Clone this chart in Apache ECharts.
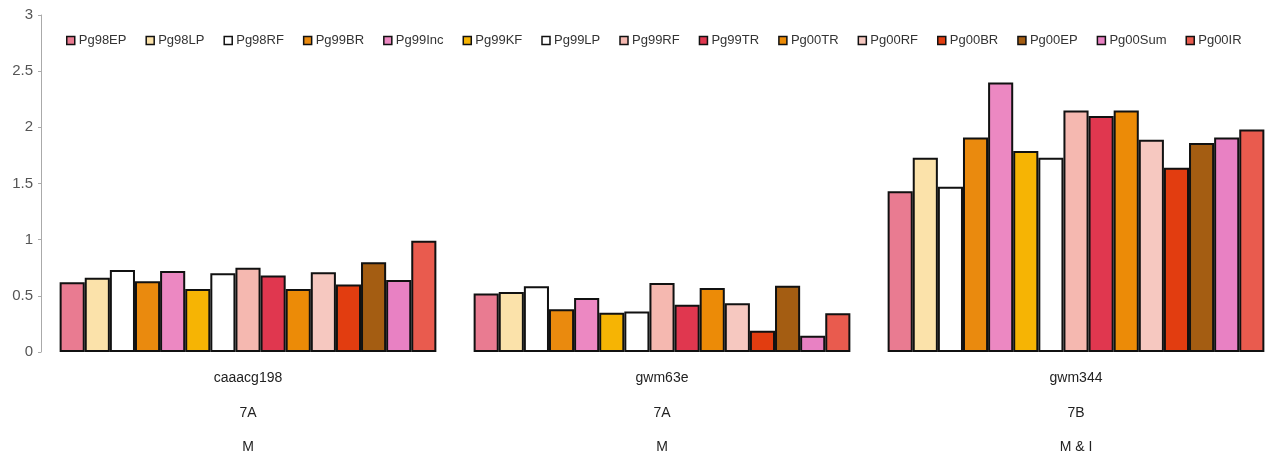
<!DOCTYPE html>
<html>
<head>
<meta charset="utf-8">
<script src="https://cdn.jsdelivr.net/npm/echarts@6/dist/echarts.min.js"></script>
<style>
  html, body { margin: 0; padding: 0; background: #fff; }
  #chart { width: 1266px; height: 457px; }
</style>
</head>
<body>
<div id="chart"></div>
<script>
// marker / chromosome / type
var categories = ["caaacg198\n7A\nM", "gwm63e\n7A\nM", "gwm344\n7B\nM & I"];
var seriesNames = ["Pg98EP", "Pg98LP", "Pg98RF", "Pg99BR", "Pg99Inc", "Pg99KF", "Pg99LP", "Pg99RF",
  "Pg99TR", "Pg00TR", "Pg00RF", "Pg00BR", "Pg00EP", "Pg00Sum", "Pg00IR"];
var colors = ["#e97b91", "#fbe2aa", "#ffffff", "#ea8a0e", "#ec88c2", "#f6b404", "#ffffff", "#f5b8b0",
  "#e0374f", "#ec8b07", "#f6c8c0", "#e23d10", "#a45d12", "#e881c3", "#e95b4e"];

// values, one array per marker (same order as seriesNames)
var caaacg198 = [0.62, 0.66, 0.73, 0.63, 0.72, 0.56, 0.70, 0.75, 0.68, 0.56, 0.71, 0.60, 0.80, 0.64, 0.99];
var gwm63e = [0.52, 0.535, 0.585, 0.38, 0.48, 0.35, 0.36, 0.615, 0.42, 0.57, 0.435, 0.19, 0.59, 0.145, 0.345];
var gwm344 = [1.43, 1.73, 1.47, 1.91, 2.40, 1.79, 1.73, 2.15, 2.10, 2.15, 1.89, 1.64, 1.86, 1.91, 1.98];

var yTicks = [0, 0.5, 1, 1.5, 2, 2.5, 3];

var series = [];
for (var i = 0; i < seriesNames.length; i++) {
  series.push({
    name: seriesNames[i],
    type: "bar",
    barGap: "0%",
    barCategoryGap: "9%",
    itemStyle: {
      color: colors[i],
      borderColor: "#111",
      borderWidth: 2
    },
    data: [caaacg198[i], gwm63e[i], gwm344[i]]
  });
}

var myChart = echarts.init(document.getElementById("chart"));
myChart.setOption({
  animation: false,
  legend: {
    data: seriesNames,
    top: 34,
    left: 66,
    width: 1500,
    padding: 0,
    icon: "rect",
    itemWidth: 8,
    itemHeight: 8,
    itemGap: 19,
    itemStyle: { borderColor: "#111", borderWidth: 1.5 },
    textStyle: { fontFamily: "Liberation Sans, Arial", fontSize: 13, color: "#333", padding: [0, 0, 0, -1] }
  },
  grid: {
    left: 41,
    width: 1242,
    top: 15,
    bottom: 105,
    containLabel: false,
    outerBoundsMode: "none"
  },
  xAxis: {
    type: "category",
    data: categories,
    axisLine: { show: false },
    axisTick: { show: false },
    axisLabel: {
      margin: 9,
      lineHeight: 34.5,
      fontFamily: "Liberation Sans Narrow, Arial Narrow, Liberation Sans",
      fontSize: 14,
      color: "#222"
    }
  },
  yAxis: {
    type: "value",
    min: yTicks[0],
    max: yTicks[yTicks.length - 1],
    interval: 0.5,
    axisLine: { show: true, lineStyle: { color: "#aaa", width: 1 } },
    axisTick: { show: true, length: 3, lineStyle: { color: "#aaa" } },
    splitLine: { show: false },
    axisLabel: {
      margin: 8,
      fontFamily: "Liberation Sans, Arial",
      fontSize: 15,
      color: "#555"
    }
  },
  series: series
});
</script>
</body>
</html>
